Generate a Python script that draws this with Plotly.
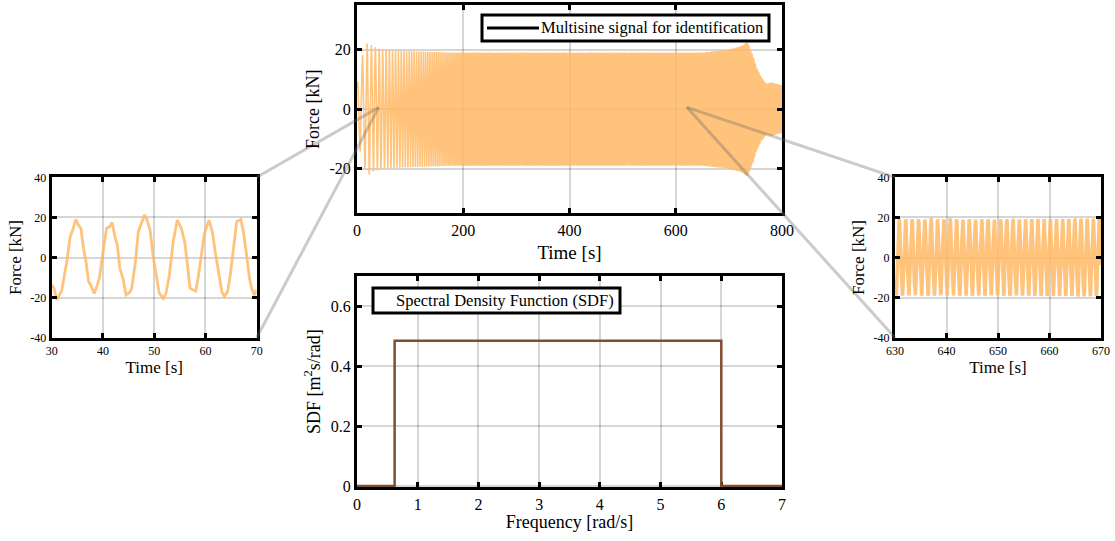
import numpy as np
import plotly.graph_objects as go

# ---------------- data ----------------
# Main panel: swept multisine (frequency sweep and amplitude envelope)
sweep_time = [0.0, 768.0]        # s
sweep_freq = [0.62, 6.0]         # rad/s
start_phase = 1.1                # rad (signal starts near +7 kN and rises)
env_time = [0, 3, 10, 20, 30, 50, 100, 180, 300, 500, 650, 700, 720, 735, 745, 752, 760, 770, 780, 800]
env_amp = [8, 12, 18, 22.5, 21, 20, 19.5, 19, 19, 19, 19, 20, 21, 22.5, 18, 14, 11, 8.5, 9, 8]

# Left zoom panel (30-70 s)
left_time = [30.0, 30.46, 30.98, 31.5, 31.95, 32.6, 32.9, 33.6, 34.1, 34.7, 35.2, 35.7, 36.2, 36.7,
             37.2, 37.6, 38.3, 38.8, 39.3, 39.8, 40.2, 40.7, 41.3, 41.8, 42.4, 42.8, 43.3, 43.9,
             44.5, 45.2, 45.6, 46.3, 46.9, 47.6, 48.1, 48.5, 49.2, 49.8, 50.5, 51.0, 51.8, 52.3,
             52.96, 53.4, 53.7, 54.5, 55.3, 56.0, 56.5, 57.0, 57.6, 58.1, 58.6, 59.3, 59.8, 60.7,
             61.4, 61.9, 62.5, 63.2, 63.7, 64.3, 64.8, 65.4, 66.1, 66.9, 67.4, 67.9, 68.6, 69.0,
             69.5, 70.0]
left_force = [-13.7, -15.4, -21.2, -18.7, -16.5, -7.1, -2.9, 10.4, 13.7, 19.0, 16.2, 14.6, 4.6, -2.1,
              -12.1, -13.7, -17.9, -14.5, -10.4, -1.2, 5.4, 14.6, 15.4, 17.4, 9.6, 6.2, -5.4, -10.4,
              -18.7, -17.5, -15.4, -2.9, 12.9, 17.9, 21.2, 19.5, 13.7, 0.4, -11.2, -17.9, -20.4, -17.9,
              -8.7, -0.4, 7.9, 18.7, 14.6, 7.1, -2.9, -15.4, -16.2, -16.7, -9.6, 3.7, 12.1, 18.7,
              12.1, 2.9, -6.2, -17.1, -19.5, -17.1, -9.6, 3.7, 17.9, 19.0, 12.9, 3.7, -10.4, -15.4,
              -18.7, -16.2]

# Right zoom window
right_window = [630, 670]

# Spectral density function
sdf_freq = [0, 0.62, 6.0, 7.0]
sdf_value = [0, 0.484, 0, 0]

# Points in the main panel where the zoom connectors meet
left_anchor = (41, 0.6)
right_anchor = (621, 0.6)

# Tick values
time_main_ticks = [0, 200, 400, 600, 800]
force_main_ticks = [-20, 0, 20]
force_zoom_ticks = [-40, -20, 0, 20, 40]
left_time_ticks = [30, 40, 50, 60, 70]
right_time_ticks = [630, 640, 650, 660, 670]
freq_ticks = [0, 1, 2, 3, 4, 5, 6, 7]
sdf_ticks = [0, 0.2, 0.4, 0.6]

# Legend texts
main_legend = "Multisine signal for identification"
sdf_legend = "Spectral Density Function (SDF)"

# ---------------- build main signal ----------------
dt = 0.05
t = np.arange(0, 800 + dt / 2, dt)
w = np.interp(t, sweep_time, sweep_freq)
phase = start_phase + np.concatenate([[0], np.cumsum(0.5 * (w[1:] + w[:-1]) * dt)])
amp = np.interp(t, env_time, env_amp)
force = amp * np.sin(phase)
mask = (t >= right_window[0]) & (t <= right_window[1])

# ---------------- layout geometry ----------------
W, H = 1115, 541
dom_main_x = [357 / W, 782 / W]
dom_main_y = [1 - 213.3 / H, 1 - 5 / H]
dom_sdf_x = [357 / W, 782 / W]
dom_sdf_y = [1 - 487.3 / H, 1 - 276 / H]
dom_left_x = [51.7 / W, 256.7 / W]
dom_right_x = [895 / W, 1101 / W]
dom_zoom_y = [1 - 337.7 / H, 1 - 177.3 / H]

rng_main_x = [0, 800]
rng_main_y = [-35, 35]
rng_left_x = [30, 70]
rng_zoom_y = [-40, 40]

ORANGE = "rgba(255,185,100,0.85)"
BROWN = "#7f4f33"
FONT = "Liberation Serif"

fig = go.Figure()
fig.add_trace(go.Scatter(x=t, y=force, mode="lines", line=dict(color=ORANGE, width=1.6),
                         name=main_legend, showlegend=False, xaxis="x", yaxis="y", hoverinfo="skip"))
fig.add_trace(go.Scatter(x=sdf_freq, y=sdf_value, mode="lines", line=dict(color=BROWN, width=2.5, shape="hv"),
                         name=sdf_legend, showlegend=False, xaxis="x2", yaxis="y2"))
fig.add_trace(go.Scatter(x=left_time, y=left_force, mode="lines", line=dict(color=ORANGE, width=2.8),
                         showlegend=False, xaxis="x3", yaxis="y3"))
fig.add_trace(go.Scatter(x=t[mask], y=force[mask], mode="lines", line=dict(color=ORANGE, width=3.4),
                         showlegend=False, xaxis="x4", yaxis="y4"))

GRID = "rgba(0,0,0,0.16)"


def axis(domain, rng, title, tickvals, anchor, tfs, ttfs, standoff):
    return dict(domain=domain, range=rng, anchor=anchor, automargin=False,
                title=dict(text=title, font=dict(family=FONT, size=ttfs, color="black"), standoff=standoff),
                tickvals=tickvals, ticktext=[f"{v:g}" for v in tickvals],
                tickfont=dict(family=FONT, size=tfs, color="black"),
                showline=True, linecolor="black", linewidth=3, mirror="ticks",
                ticks="inside", ticklen=5, tickwidth=2.5, tickcolor="black",
                showgrid=True, gridcolor=GRID, gridwidth=2, zeroline=False)


fig.update_layout(
    xaxis=axis(dom_main_x, rng_main_x, "Time [s]", time_main_ticks, "y", 16, 19, 9),
    yaxis=axis(dom_main_y, rng_main_y, "Force [kN]", force_main_ticks, "x", 16, 18, 6),
    xaxis2=axis(dom_sdf_x, [0, 7], "Frequency [rad/s]", freq_ticks, "y2", 16, 18, 3),
    yaxis2=axis(dom_sdf_y, [-0.004, 0.7], "SDF [m<sup>2</sup>s/rad]", sdf_ticks, "x2", 16, 18, 6),
    xaxis3=axis(dom_left_x, rng_left_x, "Time [s]", left_time_ticks, "y3", 12, 17, 2),
    yaxis3=axis(dom_zoom_y, rng_zoom_y, "Force [kN]", force_zoom_ticks, "x3", 12, 17, 5),
    xaxis4=axis(dom_right_x, right_window, "Time [s]", right_time_ticks, "y4", 12, 17, 2),
    yaxis4=axis(dom_zoom_y, rng_zoom_y, "Force [kN]", force_zoom_ticks, "x4", 12, 17, 5),
)
fig.layout.xaxis2.layer = "below traces"
fig.layout.yaxis2.layer = "below traces"

fig.update_layout(
    width=W, height=H, margin=dict(l=0, r=0, t=0, b=0, autoexpand=False),
    paper_bgcolor="white", plot_bgcolor="white",
    font=dict(family=FONT, color="black"),
    showlegend=False,
)


def px(val, rng, dom):
    return dom[0] + (val - rng[0]) / (rng[1] - rng[0]) * (dom[1] - dom[0])


# Legend boxes (MATLAB-style): box shape + line sample + text annotation
leg_main_box = dict(x0=482 / W, x1=769 / W, y1=1 - 15 / H, h=26)
leg_sdf_box = dict(x0=373 / W, x1=620 / W, y1=1 - 288 / H, h=25)

la = (px(left_anchor[0], rng_main_x, dom_main_x), px(left_anchor[1], rng_main_y, dom_main_y))
ra = (px(right_anchor[0], rng_main_x, dom_main_x), px(right_anchor[1], rng_main_y, dom_main_y))
conn = dict(color="rgba(105,105,105,0.35)", width=3)
ymid_main_leg = leg_main_box["y1"] - leg_main_box["h"] / 2 / H
shapes = [
    dict(type="line", xref="paper", yref="paper", x0=dom_left_x[1], y0=dom_zoom_y[1], x1=la[0], y1=la[1], line=conn),
    dict(type="line", xref="paper", yref="paper", x0=dom_left_x[1], y0=dom_zoom_y[0], x1=la[0], y1=la[1], line=conn),
    dict(type="line", xref="paper", yref="paper", x0=dom_right_x[0], y0=dom_zoom_y[1], x1=ra[0], y1=ra[1], line=conn),
    dict(type="line", xref="paper", yref="paper", x0=dom_right_x[0], y0=dom_zoom_y[0], x1=ra[0], y1=ra[1], line=conn),
]
annos = []
for box, txt in [(leg_main_box, main_legend), (leg_sdf_box, sdf_legend)]:
    shapes.append(dict(type="rect", xref="paper", yref="paper", x0=box["x0"], x1=box["x1"],
                       y0=box["y1"] - box["h"] / H, y1=box["y1"], fillcolor="white",
                       line=dict(color="black", width=3), layer="above"))
    annos.append(dict(xref="paper", yref="paper", x=box["x1"] - 4 / W, y=box["y1"] - box["h"] / 2 / H,
                      xanchor="right", yanchor="middle", text=txt, showarrow=False,
                      font=dict(family=FONT, size=16.5, color="black")))
shapes.append(dict(type="line", xref="paper", yref="paper", x0=leg_main_box["x0"] + 5 / W,
                   x1=leg_main_box["x0"] + 57 / W, y0=ymid_main_leg, y1=ymid_main_leg,
                   line=dict(color="black", width=3), layer="above"))
fig.update_layout(shapes=shapes, annotations=annos)

fig.write_html("out.html")
